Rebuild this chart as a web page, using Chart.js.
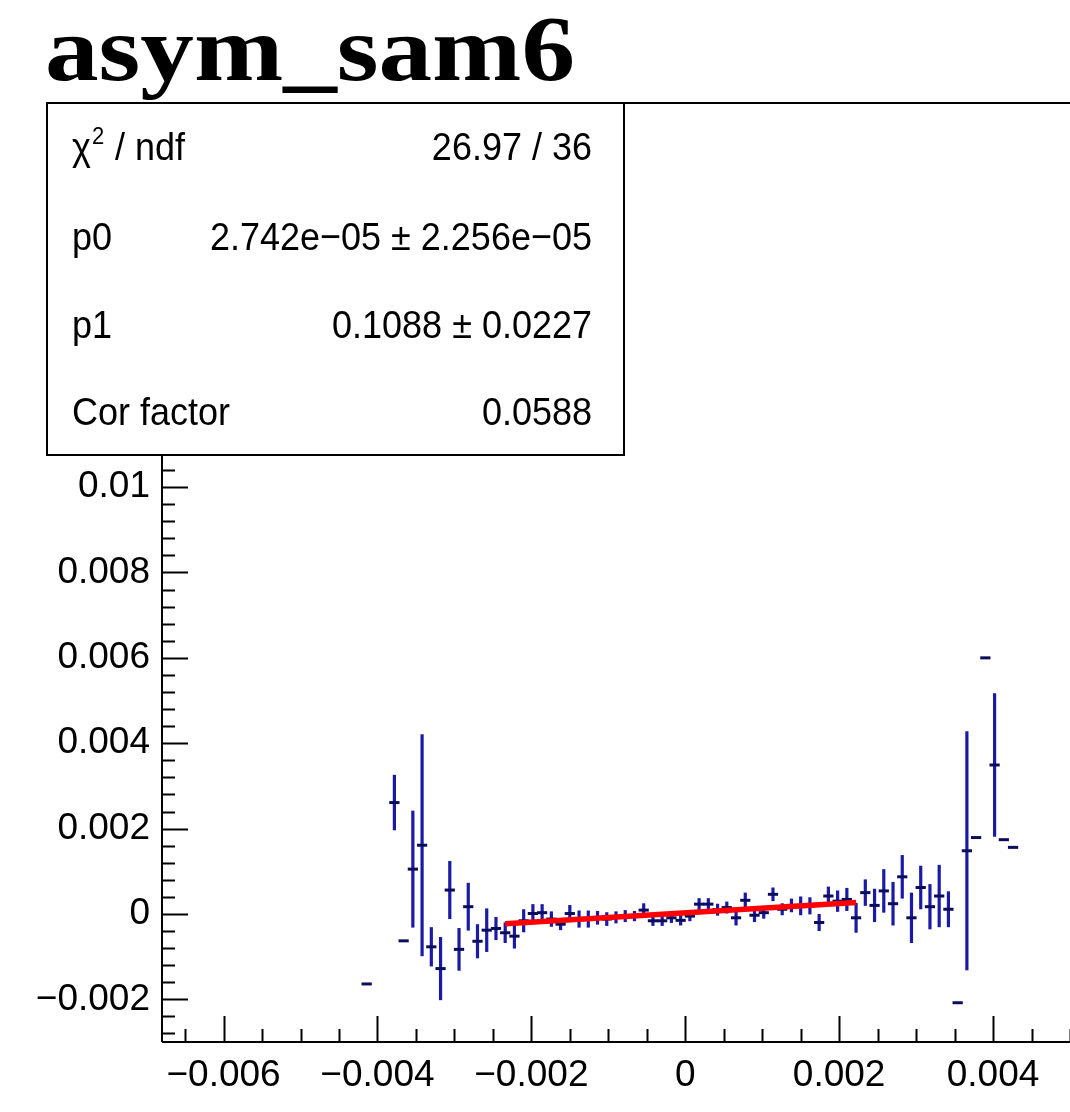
<!DOCTYPE html>
<html>
<head>
<meta charset="utf-8">
<title>asym_sam6</title>
<script src="https://cdn.jsdelivr.net/npm/chart.js@4.4.1/dist/chart.umd.min.js"></script>
<style>
  html, body { margin: 0; padding: 0; background: #fff; overflow: hidden; }
  canvas { display: block; }
</style>
</head>
<body>
<canvas id="asymChart" width="1070" height="1112"></canvas>
<script>
/* ------------------------------
   DATA
--------------------------------*/

// centres of the filled bins (bin width 0.00012)
const binX = [
  -0.00414, -0.00378, -0.00366, -0.00354, -0.00342, -0.00330, -0.00318, -0.00306,
  -0.00294, -0.00282, -0.00270, -0.00258, -0.00246, -0.00234, -0.00222, -0.00210,
  -0.00198, -0.00186, -0.00174, -0.00162, -0.00150, -0.00138, -0.00126, -0.00114,
  -0.00102, -0.00090, -0.00078, -0.00066, -0.00054, -0.00042, -0.00030, -0.00018,
  -0.00006, 0.00006, 0.00018, 0.00030, 0.00042, 0.00054, 0.00066, 0.00078,
  0.00090, 0.00102, 0.00114, 0.00126, 0.00138, 0.00150, 0.00162, 0.00174,
  0.00186, 0.00198, 0.00210, 0.00222, 0.00234, 0.00246, 0.00258, 0.00270,
  0.00282, 0.00294, 0.00306, 0.00318, 0.00330, 0.00342, 0.00354, 0.00366,
  0.00378, 0.00390, 0.00402, 0.00414, 0.00426
];

const asym = [
  -0.00164, 0.00261, -0.00063, 0.00105, 0.00161, -0.00077, -0.00128, 0.00056,
  -0.00083, 0.00017, -0.00064, -0.00038, -0.00034, -0.00044, -0.00052, -0.00016,
  0.00001, 0.00003, -0.00012, -0.00024, 0.00001, -0.00012, -0.00012, -0.00009,
  -0.00012, -0.00008, -0.00005, -0.00005, 0.00009, -0.00016, -0.00016, -0.00009,
  -0.00015, -0.00005, 0.00023, 0.00023, 0.00010, 0.00015, -0.00009, 0.00032,
  -0.00003, 0.00003, 0.00046, 0.00011, 0.00020, 0.00019, 0.00019, -0.00020,
  0.00042, 0.00030, 0.00034, -0.00009, 0.00050, 0.00020, 0.00054, 0.00024,
  0.00087, -0.00009, 0.00062, 0.00017, 0.00042, 0.00011, -0.00208, 0.00148,
  0.00179, 0.00600, 0.00349, 0.00174, 0.00156
];

const asymErr = [
  0, 0.00065, 0, 0.00137, 0.00260, 0.00046, 0.00074, 0.00068,
  0.00050, 0.00056, 0.00040, 0.00051, 0.00027, 0.00024, 0.00029, 0.00027,
  0.00022, 0.00020, 0.00018, 0.00014, 0.00020, 0.00020, 0.00020, 0.00016,
  0.00016, 0.00014, 0.00014, 0.00012, 0.00016, 0.00012, 0.00012, 0.00012,
  0.00012, 0.00012, 0.00014, 0.00014, 0.00014, 0.00014, 0.00018, 0.00018,
  0.00016, 0.00014, 0.00016, 0.00014, 0.00016, 0.00022, 0.00020, 0.00020,
  0.00022, 0.00025, 0.00027, 0.00035, 0.00031, 0.00039, 0.00051, 0.00051,
  0.00051, 0.00059, 0.00051, 0.00053, 0.00073, 0.00042, 0, 0.00280,
  0, 0, 0.00168, 0, 0
];

const binHalfWidth = 0.00006;

// fit result (pol1) and its range
const fitP0 = 2.742e-05;
const fitP1 = 0.1088;
const fitRange = [-0.00234, 0.00222];

// stats box rows
const statNames = ["ndf", "p0", "p1", "Cor factor"];
const statValues = ["26.97 / 36", "2.742e\u221205 \u00b1 2.256e\u221205", "0.1088 \u00b1 0.0227", "0.0588"];

// axis ticks
const xTicks = [-0.006, -0.004, -0.002, 0, 0.002, 0.004];
const yTicks = [-0.002, 0, 0.002, 0.004, 0.006, 0.008, 0.01, 0.012, 0.014, 0.016, 0.018];
const xMinorStep = 0.0005;
const yMinorStep = 0.0004;

/* ------------------------------
   HELPERS
--------------------------------*/

function fmtTick(v) {
    let s = String(parseFloat(Number(v).toFixed(5)));
    return s.replace("-", "\u2212");
}

const LABEL_FONT = { family: "'Liberation Sans', Arial, sans-serif", size: 37 };
const STAT_FONT = "36px 'Liberation Sans', Arial, sans-serif";

/* ------------------------------
   ROOT STYLE PLUGIN
--------------------------------*/

const rootStyle = {
    id: "rootStyle",
    beforeDatasetsDraw(chart) {
        const c = chart.ctx;
        const xs = chart.scales.x, ys = chart.scales.y;
        const a = chart.chartArea;
        c.save();
        c.beginPath();
        c.rect(a.left, a.top, a.right - a.left, a.bottom - a.top);
        c.clip();
        c.lineCap = "butt";
        for (let i = 0; i < binX.length; i++) {
            const px = xs.getPixelForValue(binX[i]);
            const x0 = xs.getPixelForValue(binX[i] - binHalfWidth);
            const x1 = xs.getPixelForValue(binX[i] + binHalfWidth);
            const py = ys.getPixelForValue(asym[i]);
            if (asymErr[i] > 0) {
                c.strokeStyle = "#1a1aa6";
                c.lineWidth = 3.2;
                c.beginPath();
                c.moveTo(px, ys.getPixelForValue(asym[i] + asymErr[i]));
                c.lineTo(px, ys.getPixelForValue(asym[i] - asymErr[i]));
                c.stroke();
            }
            c.strokeStyle = "#0c0c5c";
            c.lineWidth = 3;
            c.beginPath();
            c.moveTo(x0 - 0.5, py);
            c.lineTo(x1 + 0.5, py);
            c.stroke();
        }
        c.restore();
    },
    afterDraw(chart) {
        const c = chart.ctx;
        const xs = chart.scales.x, ys = chart.scales.y;
        const a = chart.chartArea;
        c.save();

        // frame
        c.strokeStyle = "#000";
        c.lineWidth = 2;
        c.beginPath();
        c.moveTo(a.left, a.bottom);
        c.lineTo(a.left, a.top);
        c.lineTo(a.right, a.top);
        c.moveTo(a.left, a.bottom);
        c.lineTo(a.right, a.bottom);
        c.stroke();

        // ticks, pointing into the frame
        c.beginPath();
        for (let v = -0.0065; v <= xs.max + 1e-9; v += xMinorStep) {
            const px = Math.round(xs.getPixelForValue(v)) + 0.5;
            const major = xTicks.some(t => Math.abs(t - v) < 1e-7);
            c.moveTo(px, a.bottom);
            c.lineTo(px, a.bottom - (major ? 26 : 13));
        }
        for (let v = -0.0028; v <= ys.max + 1e-9; v += yMinorStep) {
            const py = Math.round(ys.getPixelForValue(v)) + 0.5;
            const major = yTicks.some(t => Math.abs(t - v) < 1e-7);
            c.moveTo(a.left, py);
            c.lineTo(a.left + (major ? 26 : 13), py);
        }
        c.stroke();

        // stats box
        const bx = 47, by = 103, bw = 577, bh = 352;
        c.fillStyle = "#fff";
        c.fillRect(bx, by, bw, bh);
        c.lineWidth = 2;
        c.strokeRect(bx, by, bw, bh);

        c.fillStyle = "#000";
        c.textBaseline = "alphabetic";
        const rowY = [160, 250, 338, 425];
        const leftX = 72, rightX = 592;
        const stretch = 1.1;
        for (let r = 0; r < statNames.length; r++) {
            c.save();
            c.translate(0, rowY[r]);
            c.scale(1, stretch);
            c.font = STAT_FONT;
            c.textAlign = "left";
            if (r === 0) {
                c.fillText("\u03c7", leftX, 0);
                const w = c.measureText("\u03c7").width;
                c.font = "22px 'Liberation Sans', Arial, sans-serif";
                c.fillText("2", leftX + w + 1, -15);
                c.font = STAT_FONT;
                c.fillText(" / " + statNames[r], leftX + w + 14, 0);
            } else {
                c.fillText(statNames[r], leftX, 0);
            }
            c.textAlign = "right";
            c.fillText(statValues[r], rightX, 0);
            c.restore();
        }

        // title
        c.font = "bold 94px 'Liberation Serif', 'Times New Roman', serif";
        c.textAlign = "left";
        const tw = c.measureText("asym_sam6").width;
        c.save();
        c.translate(45, 80);
        c.scale(530 / tw, 1);
        c.fillText("asym_sam6", 0, 0);
        c.restore();

        c.restore();
    }
};

/* ------------------------------
   CHART
--------------------------------*/

const points = binX.map((x, i) => ({ x: x, y: asym[i] }));
const fitLine = fitRange.map(x => ({ x: x, y: fitP0 + fitP1 * x }));

new Chart(document.getElementById("asymChart"), {
    type: "scatter",
    data: {
        datasets: [
            {
                label: "asym_sam6",
                data: points,
                pointRadius: 0,
                showLine: false
            },
            {
                label: "fit",
                data: fitLine,
                showLine: true,
                borderColor: "#ff0000",
                borderWidth: 5.5,
                pointRadius: 0
            }
        ]
    },
    options: {
        responsive: false,
        animation: false,
        devicePixelRatio: 1,
        layout: { padding: { top: 103, right: 0, left: 0, bottom: 0 } },
        plugins: { legend: { display: false }, tooltip: { enabled: false } },
        scales: {
            x: {
                type: "linear",
                min: -0.0068,
                max: 0.005,
                afterFit(s) { s.height = 70; },
                afterBuildTicks(s) { s.ticks = xTicks.map(v => ({ value: v })); },
                ticks: { callback: fmtTick, font: LABEL_FONT, color: "#000", padding: 12, maxRotation: 0, autoSkip: false },
                grid: { display: false, drawTicks: false },
                border: { display: false }
            },
            y: {
                type: "linear",
                min: -0.003,
                max: 0.019,
                afterFit(s) { s.width = 162; },
                afterBuildTicks(s) { s.ticks = yTicks.map(v => ({ value: v })); },
                ticks: { callback: fmtTick, font: LABEL_FONT, color: "#000", padding: 12, autoSkip: false },
                grid: { display: false, drawTicks: false },
                border: { display: false }
            }
        }
    },
    plugins: [rootStyle]
});
</script>
</body>
</html>
